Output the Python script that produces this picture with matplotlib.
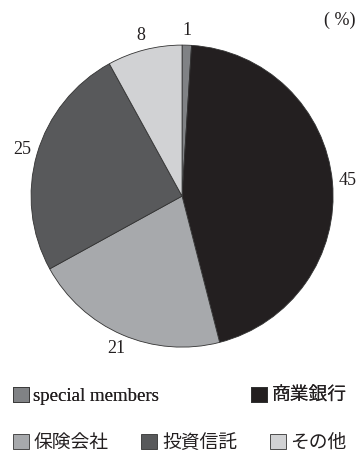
import matplotlib.pyplot as plt
from matplotlib.patches import Patch

plt.rcParams['font.family'] = ['Liberation Serif', 'Noto Sans CJK JP']

categories = ['special members', '商業銀行', '保険会社', '投資信託', 'その他']
shares = [1, 45, 21, 25, 8]
colors = ['#808285', '#231f20', '#a7a9ac', '#58595b', '#d1d2d4']

fig = plt.figure(figsize=(3.57, 4.55), dpi=100)
ax = fig.add_axes([0.087, 0.237, 0.846, 0.664])

wedges, texts = ax.pie(
    shares, colors=colors, labels=[str(v) for v in shares],
    startangle=90, counterclock=False, labeldistance=1.10,
    wedgeprops=dict(edgecolor='#333333', linewidth=0.6),
    textprops=dict(fontsize=13, color='#231f20'),
)
for t in texts:
    t.set_ha('center')
    t.set_clip_on(False)
ax.set_xlim(-1, 1)
ax.set_ylim(-1, 1)
ax.set_aspect('equal')
ax.axis('off')

fig.text(0.995, 0.956, '( %)', ha='right', va='center', fontsize=13,
         color='#231f20')

handles = [Patch(facecolor=c, edgecolor='#333333', linewidth=0.6) for c in colors]
legend_style = dict(loc='center left', frameon=False, fontsize=13.5,
                    handlelength=0.85, handleheight=0.85, handletextpad=0.25,
                    borderpad=0, borderaxespad=0, labelcolor='#231f20')

leg1 = fig.legend(handles[:2], categories[:2], bbox_to_anchor=(0.036, 0.13),
                  ncol=2, columnspacing=4.9, **legend_style)
leg2 = fig.legend(handles[2:], categories[2:], bbox_to_anchor=(0.036, 0.026),
                  ncol=3, columnspacing=1.75, **legend_style)
fig.add_artist(leg1)

fig.savefig('out.png', dpi=100)
